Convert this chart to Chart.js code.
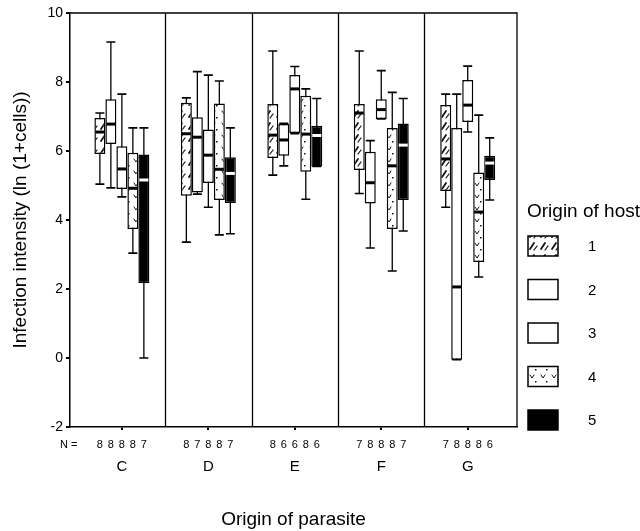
<!DOCTYPE html>
<html><head><meta charset="utf-8">
<script src="https://cdn.jsdelivr.net/npm/chart.js@4.4.1/dist/chart.umd.min.js"></script>
<style>html,body{margin:0;padding:0;background:#fff}</style>
</head><body>
<canvas id="c" width="640" height="531"></canvas>
<script>
const groups = ['C','D','E','F','G'];
const hosts = ['1','2','3','4','5'];
// [host][group]
const whiskerLow  = [[5.04,3.36,5.30,4.77,4.37],[4.93,4.75,5.57,3.19,-0.05],[4.67,4.37,6.50,6.93,6.55],[3.04,3.57,4.60,2.52,2.35],[0.00,3.60,5.55,3.68,4.58]];
const q1          = [[5.91,4.70,5.80,5.45,4.84],[6.20,4.80,5.86,4.48,-0.05],[4.90,5.07,6.52,6.93,6.84],[3.74,4.58,5.40,3.74,2.78],[2.17,4.49,5.55,4.58,5.16]];
const medians     = [[6.55,6.50,6.46,7.10,5.77],[6.78,6.40,6.32,5.08,2.06],[5.48,5.88,7.80,7.20,7.33],[4.92,5.47,6.49,5.57,4.23],[5.16,5.35,6.45,6.17,5.65]];
const q3          = [[6.96,7.40,7.36,7.36,7.33],[7.50,6.98,6.78,5.98,6.67],[6.14,6.62,8.20,7.50,8.06],[5.95,7.38,7.60,6.67,5.38],[5.90,5.82,6.73,6.80,5.86]];
const whiskerHigh = [[7.10,7.54,8.90,8.90,7.65],[9.16,8.30,6.80,6.30,7.65],[7.65,8.20,8.45,8.33,8.46],[6.67,8.03,7.80,7.70,7.04],[6.67,6.67,7.52,7.52,6.38]];
// [group][host]
const nCounts = [[8,8,8,8,7],[8,7,8,8,7],[8,6,6,8,6],[7,8,8,8,7],[7,8,8,8,6]];
const yTicks = [-2,0,2,4,6,8,10];

const FONT = "'Liberation Sans', Arial, Helvetica, sans-serif";
Chart.defaults.font.family = FONT;
Chart.defaults.color = '#000';

function makePattern(kind){
  const t = document.createElement('canvas');
  t.width = 11; t.height = 12;
  const g = t.getContext('2d');
  g.fillStyle = '#fff'; g.fillRect(0,0,11,12);
  g.strokeStyle = '#111'; g.fillStyle = '#111'; g.lineCap = 'round';
  if(kind === 1){
    g.lineWidth = 1.8;
    g.beginPath(); g.moveTo(2,9); g.lineTo(6,3); g.stroke();
    g.lineWidth = 1.2;
    g.beginPath(); g.moveTo(6,10); g.lineTo(9,6); g.stroke();
  } else {
    g.lineWidth = 1;
    g.beginPath(); g.moveTo(2,3); g.lineTo(4,6); g.lineTo(6,3); g.stroke();
    g.fillRect(7,9,1.5,1.5);
  }
  return g.createPattern(t, 'repeat');
}
const ctx = document.getElementById('c').getContext('2d');
const fills = [makePattern(1), '#fff', '#fff', makePattern(4), '#000'];

const datasets = hosts.map((h, k) => ({
  label: h,
  data: groups.map((g, i) => ({x: i, y: [q1[k][i], q3[k][i]]})),
  backgroundColor: fills[k],
  borderColor: '#000',
  borderWidth: 1.5,
  borderSkipped: false,
  categoryPercentage: 0.636,
  barPercentage: 1
}));

const boxPlugin = {
  id: 'boxParts',
  beforeDatasetsDraw(chart){
    const {ctx, chartArea: a, scales: {x, y}} = chart;
    ctx.save();
    ctx.strokeStyle = '#000';
    ctx.lineWidth = 1.3;
    ctx.beginPath();
    for(let i = 0; i < groups.length - 1; i++){
      const px = Math.round(x.getPixelForValue(i + 0.5)) + 0.5;
      ctx.moveTo(px, a.top); ctx.lineTo(px, a.bottom);
    }
    ctx.moveTo(a.left, a.top); ctx.lineTo(a.right, a.top); ctx.lineTo(a.right, a.bottom);
    ctx.stroke();
    // whiskers
    hosts.forEach((h, k) => {
      chart.getDatasetMeta(k).data.forEach((el, i) => {
        const lo = y.getPixelForValue(whiskerLow[k][i]);
        const hi = y.getPixelForValue(whiskerHigh[k][i]);
        ctx.lineWidth = 1.3;
        ctx.beginPath();
        ctx.moveTo(el.x, hi); ctx.lineTo(el.x, lo);
        ctx.stroke();
        ctx.lineWidth = 1.6;
        ctx.beginPath();
        ctx.moveTo(el.x - 4.5, hi); ctx.lineTo(el.x + 4.5, hi);
        ctx.moveTo(el.x - 4.5, lo); ctx.lineTo(el.x + 4.5, lo);
        ctx.stroke();
      });
    });
    ctx.restore();
  },
  afterDatasetsDraw(chart){
    const {ctx, scales: {y}} = chart;
    ctx.save();
    ctx.lineWidth = 3;
    hosts.forEach((h, k) => {
      ctx.strokeStyle = k === 4 ? '#fff' : '#000';
      chart.getDatasetMeta(k).data.forEach((el, i) => {
        const py = y.getPixelForValue(medians[k][i]);
        ctx.beginPath();
        ctx.moveTo(el.x - el.width / 2 + 1, py);
        ctx.lineTo(el.x + el.width / 2 - 1, py);
        ctx.stroke();
      });
    });
    ctx.restore();
  },
  afterDraw(chart){
    const {ctx} = chart;
    ctx.save();
    ctx.fillStyle = '#000';
    // N row
    ctx.font = '11px ' + FONT;
    ctx.textBaseline = 'middle';
    ctx.textAlign = 'left';
    ctx.fillText('N =', 60, 445);
    ctx.textAlign = 'center';
    hosts.forEach((h, k) => {
      chart.getDatasetMeta(k).data.forEach((el, i) => {
        ctx.fillText(String(nCounts[i][k]), el.x, 445);
      });
    });
    // legend
    ctx.textAlign = 'left';
    ctx.font = '19px ' + FONT;
    ctx.fillText('Origin of host', 527, 212);
    ctx.font = '15px ' + FONT;
    hosts.forEach((h, k) => {
      const cy = 246 + k * 43.5;
      ctx.fillStyle = fills[k];
      ctx.fillRect(528, cy - 10, 30, 20);
      ctx.strokeStyle = '#000';
      ctx.lineWidth = 1.5;
      ctx.strokeRect(528, cy - 10, 30, 20);
      ctx.fillStyle = '#000';
      ctx.fillText(h, 588, cy + 1);
    });
    ctx.restore();
  }
};

new Chart(ctx, {
  type: 'bar',
  data: {datasets},
  options: {
    responsive: false,
    animation: false,
    layout: {padding: {top: 13, right: 123, left: 0, bottom: 0}},
    plugins: {legend: {display: false}, tooltip: {enabled: false}},
    scales: {
      x: {
        type: 'linear', min: -0.6, max: 4.57, offset: false,
        afterBuildTicks: s => { s.ticks = groups.map((g, i) => ({value: i})); },
        afterFit: s => { s.height = 104; },
        ticks: {callback: v => groups[v] ?? '', font: {size: 15}, padding: 28, autoSkip: false, maxRotation: 0},
        grid: {drawOnChartArea: false, offset: false, tickLength: 3, color: '#000', lineWidth: 2},
        border: {color: '#000', width: 1.5},
        title: {display: true, text: 'Origin of parasite', font: {size: 19}, padding: {top: 0, bottom: 0}}
      },
      y: {
        min: -2, max: 10,
        afterBuildTicks: s => { s.ticks = yTicks.map(v => ({value: v})); },
        afterFit: s => { s.width = 70; },
        ticks: {font: {size: 14}, padding: 3},
        grid: {drawOnChartArea: false, tickLength: 4, color: '#000', lineWidth: 2},
        border: {color: '#000', width: 1.5},
        title: {display: true, text: 'Infection intensity (ln (1+cells))', font: {size: 19}, padding: {top: 9, bottom: 0}}
      }
    }
  },
  plugins: [boxPlugin]
});
</script>
</body></html>
